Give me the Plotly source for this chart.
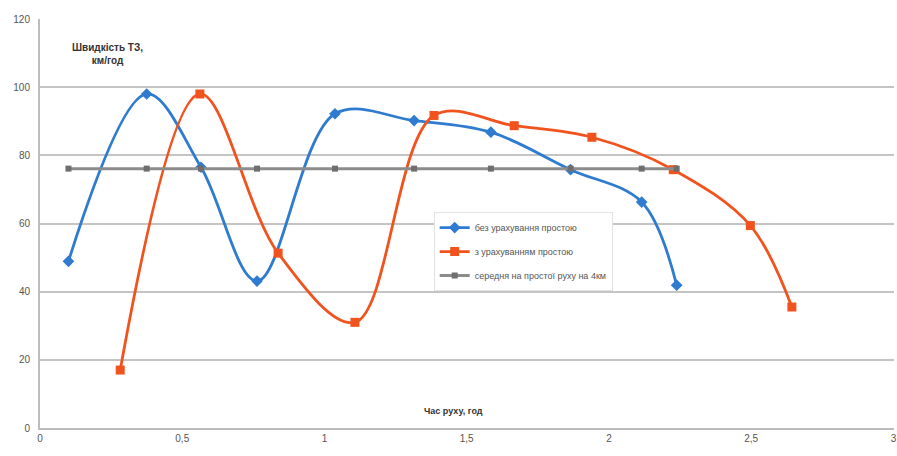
import plotly.graph_objects as go

# Data
blue_x = [0.10, 0.375, 0.566, 0.763, 1.037, 1.315, 1.585, 1.865, 2.115, 2.238]
blue_y = [48.9, 98.0, 76.5, 43.1, 92.2, 90.2, 86.8, 75.8, 66.3, 41.9]

orange_x = [0.282, 0.562, 0.837, 1.107, 1.385, 1.667, 1.94, 2.226, 2.497, 2.643]
orange_y = [17.0, 98.0, 51.3, 31.0, 91.7, 88.7, 85.3, 75.8, 59.4, 35.5]

gray_x = blue_x
gray_y = [76.1] * len(blue_x)

names = [
    "без урахування простою",
    "з урахуванням простою",
    "середня на простої руху на 4км",
]

x_ticks = [0, 0.5, 1, 1.5, 2, 2.5, 3]
x_tick_labels = ["0", "0,5", "1", "1,5", "2", "2,5", "3"]
y_ticks = [0, 20, 40, 60, 80, 100, 120]

fig = go.Figure()
fig.add_trace(go.Scatter(
    x=blue_x, y=blue_y, name=names[0], legendgroup="a",
    mode="lines+markers",
    line=dict(color="#2E7BCF", width=2.8, shape="spline", smoothing=1.0),
    marker=dict(symbol="diamond", size=9, color="#2E7BCF"),
))
fig.add_trace(go.Scatter(
    x=orange_x, y=orange_y, name=names[1], legendgroup="b",
    mode="lines+markers",
    line=dict(color="#F0531E", width=2.8, shape="spline", smoothing=1.0),
    marker=dict(symbol="square", size=9, color="#F0531E"),
))
fig.add_trace(go.Scatter(
    x=gray_x, y=gray_y, name=names[2], legendgroup="c",
    mode="lines+markers",
    line=dict(color="#8C8C8C", width=3),
    marker=dict(symbol="square", size=6, color="#6E6E6E"),
))

fig.update_layout(
    width=897, height=456,
    margin=dict(l=40, r=0, t=19, b=28),
    paper_bgcolor="white", plot_bgcolor="white",
    font=dict(family="Liberation Sans Narrow, Liberation Sans, Arial", size=10, color="#555555"),
    showlegend=True,
    legend=dict(
        x=0.461, y=0.528, xanchor="left", yanchor="top",
        bgcolor="white", bordercolor="#E2E2E2", borderwidth=1,
        font=dict(size=9, color="#555555"),
        tracegroupgap=5,
    ),
    xaxis=dict(
        range=[0, 3.002], tickvals=x_ticks, ticktext=x_tick_labels,
        showgrid=False, zeroline=False,
        showline=True, linecolor="#BDBDBD", linewidth=2,
        ticks="", tickfont=dict(size=10, color="#555555"),
        ticklabeloverflow="allow",
    ),
    yaxis=dict(
        range=[0, 120], tickvals=y_ticks,
        showgrid=True, gridcolor="#C4C4C4", gridwidth=2,
        zeroline=False,
        showline=True, linecolor="#BDBDBD", linewidth=2,
        ticks="", tickfont=dict(size=10, color="#555555"),
        ticklabelstandoff=6,
    ),
    annotations=[
        dict(text="<b>Швидкість ТЗ,<br>км/год</b>", xref="paper", yref="paper",
             x=(108 - 40) / 857, y=(428 - 54) / 409, xanchor="center", yanchor="middle",
             showarrow=False, font=dict(size=10, color="#333333")),
        dict(text="<b>Час руху, год</b>", xref="paper", yref="paper",
             x=(455 - 40) / 857, y=(428 - 411) / 409, xanchor="center", yanchor="middle",
             showarrow=False, font=dict(size=9, color="#333333")),
    ],
)

fig.write_html("out.html")
